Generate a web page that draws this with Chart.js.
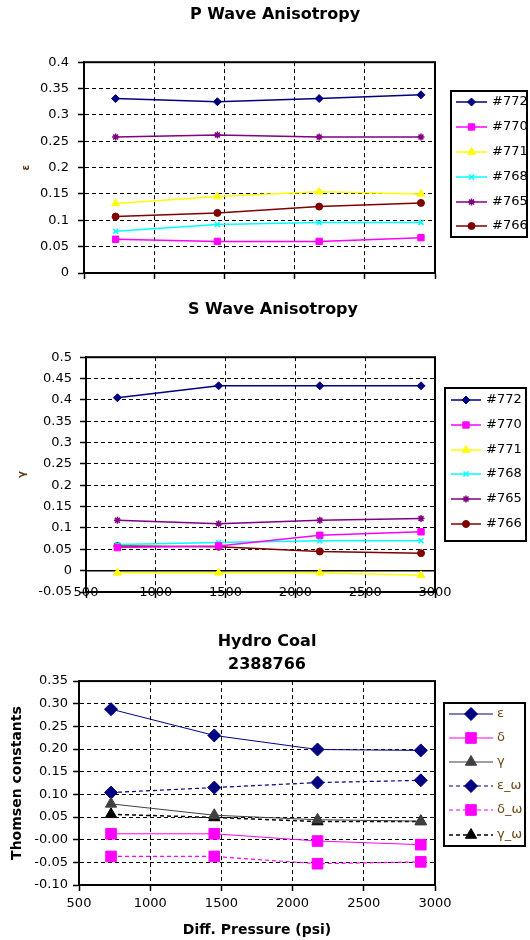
<!DOCTYPE html>
<html>
<head>
<meta charset="utf-8">
<script src="https://cdn.jsdelivr.net/npm/chart.js@4.4.1/dist/chart.umd.min.js"></script>
<style>
body { margin: 0; background: #fff; width: 530px; height: 940px; position: relative; overflow: hidden; }
canvas { position: absolute; left: 0; }
</style>
</head>
<body>
<canvas id="grafico1" width="530" height="290" style="top:0px"></canvas>
<canvas id="grafico2" width="530" height="320" style="top:290px"></canvas>
<canvas id="grafico3" width="530" height="330" style="top:610px"></canvas>
<script>
// presion diferencial (psi), igual para las tres graficas
const presion = [725, 1450, 2175, 2900];
const muestras = ['#772', '#770', '#771', '#768', '#765', '#766'];

// P Wave Anisotropy (epsilon)
const pw772 = [0.331, 0.325, 0.331, 0.338];
const pw770 = [0.064, 0.060, 0.060, 0.067];
const pw771 = [0.132, 0.145, 0.154, 0.150];
const pw768 = [0.079, 0.092, 0.096, 0.096];
const pw765 = [0.258, 0.262, 0.258, 0.258];
const pw766 = [0.107, 0.114, 0.126, 0.133];

// S Wave Anisotropy (gamma)
const sw772 = [0.405, 0.433, 0.433, 0.433];
const sw770 = [0.054, 0.058, 0.083, 0.091];
const sw771 = [-0.005, -0.005, -0.005, -0.011];
const sw768 = [0.061, 0.066, 0.070, 0.070];
const sw765 = [0.118, 0.110, 0.118, 0.122];
const sw766 = [0.058, 0.056, 0.045, 0.041];

// Hydro Coal 2388766
const thomsen = ['ε', 'δ', 'γ', 'ε_ω', 'δ_ω', 'γ_ω'];
const eps = [0.288, 0.230, 0.199, 0.197];
const delta = [0.013, 0.013, -0.003, -0.011];
const gamma = [0.079, 0.054, 0.044, 0.041];
const epsW = [0.104, 0.115, 0.126, 0.131];
const deltaW = [-0.037, -0.037, -0.053, -0.049];
const gammaW = [0.056, 0.049, 0.040, 0.040];

Chart.defaults.font.family = '"DejaVu Sans", sans-serif';
Chart.defaults.color = '#000';

function serie(label, valores, color, marcador, radio, ancho, guion) {
    return {
        label: label,
        data: presion.map((p, i) => ({x: p, y: valores[i]})),
        borderColor: color,
        borderWidth: ancho,
        borderDash: guion || [],
        pointStyle: marcador,
        pointRadius: radio,
        pointBackgroundColor: color,
        pointBorderColor: color,
        pointBorderWidth: (marcador == 'crossRot' || marcador == 'star') ? 1.5 : 1,
        tension: 0,
        fill: false,
        yAxisID: 'y'
    };
}

// marco negro del area de trazado (y linea del cero si se pide)
function marco(lineaCero) {
    return {
        id: 'marco',
        beforeDatasetsDraw(chart) {
            const ctx = chart.ctx;
            const a = chart.chartArea;
            ctx.save();
            ctx.strokeStyle = '#000';
            ctx.lineWidth = 2;
            ctx.strokeRect(a.left, a.top, a.right - a.left, a.bottom - a.top);
            if (lineaCero) {
                const p = chart.scales.y.getPixelForValue(0);
                ctx.lineWidth = 1.5;
                ctx.beginPath();
                ctx.moveTo(a.left, p);
                ctx.lineTo(a.right, p);
                ctx.stroke();
            }
            ctx.restore();
        }
    };
}

// leyenda estilo Excel: caja, linea con marcador y texto (coordenadas del canvas)
function leyenda(cfg) {
    return {
        id: 'leyenda',
        afterDraw(chart) {
            const ctx = chart.ctx;
            const [bx, by, bw, bh] = cfg.caja;
            ctx.save();
            ctx.fillStyle = '#fff';
            ctx.fillRect(bx, by, bw, bh);
            ctx.beginPath();
            ctx.rect(bx, by, bw, bh);
            ctx.clip();
            chart.data.datasets.forEach((ds, i) => {
                const y = cfg.filas[i];
                ctx.strokeStyle = ds.borderColor;
                ctx.lineWidth = ds.borderWidth;
                ctx.setLineDash(ds.borderDash || []);
                ctx.beginPath();
                ctx.moveTo(cfg.x1, y);
                ctx.lineTo(cfg.x2, y);
                ctx.stroke();
                ctx.setLineDash([]);
                ctx.fillStyle = ds.pointBackgroundColor;
                ctx.strokeStyle = ds.pointBorderColor;
                ctx.lineWidth = ds.pointBorderWidth;
                Chart.helpers.drawPoint(ctx, {
                    pointStyle: ds.pointStyle,
                    radius: ds.pointRadius,
                    rotation: 0,
                    borderWidth: ds.pointBorderWidth
                }, (cfg.x1 + cfg.x2) / 2, y);
                ctx.fillStyle = cfg.color;
                ctx.font = '13px "DejaVu Sans"';
                ctx.textAlign = 'left';
                ctx.textBaseline = 'middle';
                ctx.fillText(ds.label, cfg.xt, y);
            });
            ctx.restore();
            ctx.save();
            ctx.strokeStyle = '#000';
            ctx.lineWidth = 2;
            ctx.strokeRect(bx, by, bw, bh);
            ctx.restore();
        }
    };
}

function rejilla() {
    return {color: '#000', lineWidth: 1, tickLength: 6, tickColor: '#000', tickWidth: 1.5, tickBorderDash: []};
}
function borde() {
    return {display: true, color: '#000', width: 2, dash: [4, 3]};
}
// etiquetas como Excel: 0.4, 0.35, 0 ...
const formatoCorto = v => String(Math.round(v * 100) / 100);
const formatoPresion = v => String(v);

// eje derecho invisible que reserva el sitio de la leyenda
const ejeDerecho = {
    position: 'right',
    grid: {display: false, drawTicks: false},
    ticks: {display: false},
    border: {display: false},
    afterFit: s => { s.width = 95; }
};

const ctx1 = document.getElementById('grafico1').getContext('2d');
const grafico1 = new Chart(ctx1, {
    type: 'line',
    data: {
        datasets: [
            serie(muestras[0], pw772, '#000080', 'rectRot', 4, 1.5),
            serie(muestras[1], pw770, '#ff00ff', 'rect', 4.5, 1.5),
            serie(muestras[2], pw771, '#ffff00', 'triangle', 4.5, 1.5),
            serie(muestras[3], pw768, '#00ffff', 'crossRot', 3.5, 1.5),
            serie(muestras[4], pw765, '#800080', 'star', 3.5, 1.5),
            serie(muestras[5], pw766, '#800000', 'circle', 3.5, 1.5)
        ]
    },
    options: {
        responsive: false,
        animation: false,
        devicePixelRatio: 1,
        layout: {padding: {left: 20, right: 0, top: 0, bottom: 0}},
        plugins: {
            legend: {display: false},
            tooltip: {enabled: false},
            title: {
                display: true,
                text: 'P Wave Anisotropy',
                color: '#000',
                font: {size: 16, weight: 'bold'},
                padding: {top: 5, bottom: 38}
            }
        },
        scales: {
            x: {
                type: 'linear', min: 500, max: 3000,
                ticks: {display: false, stepSize: 500},
                grid: rejilla(), border: borde(),
                afterFit: s => { s.height = 17; }
            },
            y: {
                min: 0, max: 0.4,
                ticks: {stepSize: 0.05, padding: 9, font: {size: 13}, callback: formatoCorto},
                title: {display: true, text: 'ε', color: '#5a3a10', font: {size: 10, weight: 'bold'}, padding: 0},
                grid: rejilla(), border: borde(),
                afterFit: s => { s.width = 64; }
            },
            yr: ejeDerecho
        }
    },
    plugins: [marco(false), leyenda({caja: [451, 91, 76, 146], filas: [102, 127, 152, 177, 202, 226], x1: 456, x2: 487, xt: 492, color: '#000'})]
});

const ctx2 = document.getElementById('grafico2').getContext('2d');
const grafico2 = new Chart(ctx2, {
    type: 'line',
    data: {
        datasets: [
            serie(muestras[0], sw772, '#000080', 'rectRot', 4, 1.5),
            serie(muestras[1], sw770, '#ff00ff', 'rect', 4.5, 1.5),
            serie(muestras[2], sw771, '#ffff00', 'triangle', 4.5, 1.5),
            serie(muestras[3], sw768, '#00ffff', 'crossRot', 3.5, 1.5),
            serie(muestras[4], sw765, '#800080', 'star', 3.5, 1.5),
            serie(muestras[5], sw766, '#800000', 'circle', 3.5, 1.5)
        ]
    },
    options: {
        responsive: false,
        animation: false,
        devicePixelRatio: 1,
        layout: {padding: {left: 16, right: 0, top: 0, bottom: 0}},
        plugins: {
            legend: {display: false},
            tooltip: {enabled: false},
            title: {
                display: true,
                text: 'S Wave Anisotropy',
                color: '#000',
                font: {size: 16, weight: 'bold'},
                padding: {top: 10, bottom: 38}
            }
        },
        scales: {
            x: {
                type: 'linear', min: 500, max: 3000,
                ticks: {stepSize: 500, padding: -13, font: {size: 13}, maxRotation: 0, callback: formatoPresion},
                grid: rejilla(), border: borde(),
                // las etiquetas pisan el borde inferior como en el original: sin recorte
                afterFit: s => { s.height = 18; s._computeLabelArea = () => undefined; }
            },
            y: {
                min: -0.05, max: 0.5,
                ticks: {stepSize: 0.05, padding: 8, font: {size: 13}, callback: formatoCorto},
                title: {display: true, text: 'γ', color: '#5a3a10', font: {size: 10, weight: 'bold'}, padding: 0},
                grid: rejilla(), border: borde(),
                afterFit: s => { s.width = 70; }
            },
            yr: ejeDerecho
        }
    },
    plugins: [marco(true), leyenda({caja: [445, 98, 81, 153], filas: [110, 135, 160, 184, 209, 234], x1: 451, x2: 481, xt: 486, color: '#000'})]
});

const ctx3 = document.getElementById('grafico3').getContext('2d');
const grafico3 = new Chart(ctx3, {
    type: 'line',
    data: {
        datasets: [
            serie(thomsen[0], eps, '#000080', 'rectRot', 6.5, 1),
            serie(thomsen[1], delta, '#ff00ff', 'rect', 7.5, 1),
            serie(thomsen[2], gamma, '#404040', 'triangle', 6.5, 1),
            serie(thomsen[3], epsW, '#000080', 'rectRot', 6.5, 1.2, [4, 3]),
            serie(thomsen[4], deltaW, '#ff00ff', 'rect', 7.5, 1.2, [4, 3]),
            serie(thomsen[5], gammaW, '#000000', 'triangle', 6.5, 1.5, [4, 3])
        ]
    },
    options: {
        responsive: false,
        animation: false,
        devicePixelRatio: 1,
        layout: {padding: {left: 4, right: 0, top: 0, bottom: 0}},
        plugins: {
            legend: {display: false},
            tooltip: {enabled: false},
            title: {
                display: true,
                text: ['Hydro Coal', '2388766'],
                color: '#000',
                font: {size: 16, weight: 'bold', lineHeight: 1.44},
                padding: {top: 20, bottom: 5}
            }
        },
        scales: {
            x: {
                type: 'linear', min: 500, max: 3000,
                ticks: {stepSize: 500, padding: 5, font: {size: 13}, maxRotation: 0, callback: formatoPresion},
                title: {display: true, text: 'Diff. Pressure (psi)', color: '#000', font: {size: 14, weight: 'bold'}, padding: {top: 0, bottom: 1}},
                grid: rejilla(), border: borde(),
                afterFit: s => { s.height = 55; }
            },
            y: {
                min: -0.10, max: 0.35,
                ticks: {stepSize: 0.05, padding: 5, font: {size: 13}, callback: v => v.toFixed(2)},
                title: {display: true, text: 'Thomsen constants', color: '#000', font: {size: 14, weight: 'bold'}, padding: {top: 5, bottom: 0}},
                grid: rejilla(), border: borde(),
                afterFit: s => { s.width = 75; }
            },
            yr: ejeDerecho
        }
    },
    plugins: [marco(false), leyenda({caja: [444, 93, 81, 143], filas: [104, 128, 152, 176, 200, 225], x1: 449, x2: 493, xt: 497, color: '#6b4a1a'})]
});
</script>
</body>
</html>
